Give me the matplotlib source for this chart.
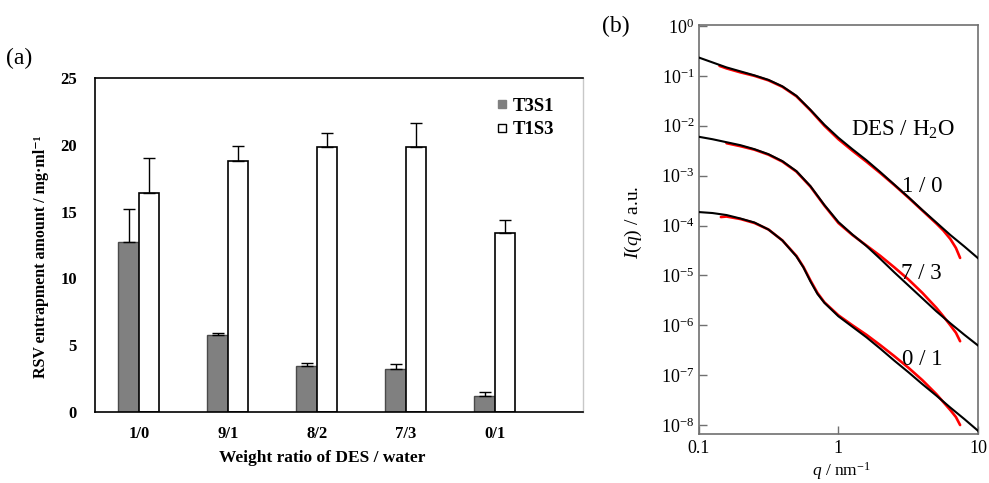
import matplotlib
matplotlib.use('Agg')
import matplotlib.pyplot as plt
from matplotlib.lines import Line2D
from matplotlib.ticker import FixedLocator, FixedFormatter, NullLocator
import numpy as np

plt.rcParams['font.family'] = ['Liberation Serif', 'DejaVu Serif']
plt.rcParams['mathtext.fontset'] = 'custom'
plt.rcParams['mathtext.rm'] = 'Liberation Serif'
plt.rcParams['mathtext.it'] = 'Liberation Serif:italic'
plt.rcParams['mathtext.bf'] = 'Liberation Serif:bold'

# ---------------- panel (a) data ----------------
categories = ['1/0', '9/1', '8/2', '7/3', '0/1']
t3s1 = [12.75, 5.8, 3.42, 3.22, 1.2]
t3s1_err = [2.45, 0.15, 0.25, 0.37, 0.27]
t1s3 = [16.4, 18.8, 19.8, 19.8, 13.37]
t1s3_err = [2.6, 1.1, 1.05, 1.8, 1.0]
a_yticks = [0, 5, 10, 15, 20, 25]

# ---------------- panel (b) data (log10 values) ----------------
fit_10_logq = [-1.0, -0.9, -0.8, -0.7, -0.6, -0.5, -0.4, -0.3, -0.2, -0.1, 0.0,
               0.1, 0.2, 0.3, 0.4, 0.5, 0.6, 0.7, 0.8, 0.9, 1.0]
fit_10_logI = [-0.63, -0.73, -0.83, -0.91, -0.99, -1.08, -1.21, -1.40, -1.68, -1.98, -2.24,
               -2.47, -2.69, -2.93, -3.18, -3.43, -3.69, -3.94, -4.19, -4.42, -4.66]
fit_73_logq = [-1.0, -0.9, -0.8, -0.7, -0.6, -0.5, -0.4, -0.3, -0.2, -0.1, 0.0,
               0.1, 0.2, 0.3, 0.4, 0.5, 0.6, 0.7, 0.8, 0.9, 1.0]
fit_73_logI = [-2.22, -2.27, -2.33, -2.39, -2.47, -2.57, -2.71, -2.91, -3.21, -3.59, -3.93,
               -4.18, -4.41, -4.67, -4.94, -5.20, -5.46, -5.72, -5.96, -6.19, -6.41]
fit_01_logq = [-1.0, -0.9, -0.8, -0.7, -0.6, -0.5, -0.4, -0.3, -0.25, -0.2, -0.15, -0.1, 0.0,
               0.1, 0.2, 0.3, 0.4, 0.5, 0.6, 0.7, 0.8, 0.9, 1.0]
fit_01_logI = [-3.73, -3.75, -3.79, -3.86, -3.94, -4.08, -4.30, -4.62, -4.84, -5.12, -5.37, -5.55, -5.82,
               -6.03, -6.24, -6.47, -6.71, -6.94, -7.18, -7.41, -7.65, -7.88, -8.12]

exp_10_logq = [-0.85, -0.8, -0.7, -0.6, -0.5, -0.4, -0.3, -0.2, -0.1, 0.0, 0.1, 0.2, 0.3,
               0.4, 0.5, 0.6, 0.7, 0.75, 0.8, 0.84, 0.87]
exp_10_logI = [-0.80, -0.85, -0.93, -1.00, -1.09, -1.22, -1.41, -1.69, -2.00, -2.27, -2.50, -2.72, -2.95,
               -3.19, -3.44, -3.70, -3.96, -4.10, -4.27, -4.45, -4.65]
exp_73_logq = [-0.8, -0.7, -0.6, -0.5, -0.4, -0.3, -0.2, -0.1, 0.0, 0.1, 0.2, 0.3,
               0.4, 0.5, 0.6, 0.7, 0.75, 0.8, 0.84, 0.87]
exp_73_logI = [-2.35, -2.41, -2.48, -2.58, -2.72, -2.92, -3.22, -3.60, -3.95, -4.19, -4.40, -4.61,
               -4.84, -5.08, -5.35, -5.65, -5.82, -6.00, -6.15, -6.32]
exp_01_logq = [-0.84, -0.8, -0.7, -0.6, -0.5, -0.4, -0.3, -0.25, -0.2, -0.15, -0.1, 0.0, 0.1, 0.2,
               0.3, 0.4, 0.5, 0.6, 0.7, 0.75, 0.8, 0.84, 0.87]
exp_01_logI = [-3.83, -3.82, -3.87, -3.95, -4.08, -4.30, -4.61, -4.83, -5.10, -5.35, -5.54, -5.80, -6.00, -6.19,
               -6.40, -6.62, -6.85, -7.10, -7.38, -7.54, -7.70, -7.84, -8.00]

b_ytick_exps = [0, -1, -2, -3, -4, -5, -6, -7, -8]
b_xticks = [0.1, 1, 10]
b_xticklabels = ['0.1', '1', '10']
curve_labels = ['1 / 0', '7 / 3', '0 / 1']

W, H = 989, 483
fig = plt.figure(figsize=(W / 100, H / 100), dpi=100)

# ---------------- panel (a) ----------------
axa = fig.add_axes([95 / W, 1 - 412 / H, (583 - 95) / W, (412 - 78) / H])
x = np.arange(len(categories))
w = 0.23
ekw = dict(ecolor='black', elinewidth=1.0, capthick=1.0)
axa.bar(x - w / 2, t3s1, w, color='#808080', edgecolor='#4a4a4a', linewidth=1.0,
        yerr=[np.zeros(len(t3s1)), t3s1_err], capsize=4, error_kw=ekw, zorder=2)
axa.bar(x + w / 2, t1s3, w, color='white', edgecolor='black', linewidth=1.2,
        yerr=[np.zeros(len(t1s3)), t1s3_err], capsize=4, error_kw=ekw, zorder=2)
axa.set_xlim(-0.494, 4.99)
axa.set_ylim(0, 25)
axa.set_yticks(a_yticks)
axa.set_yticklabels([str(v) for v in a_yticks])
axa.set_xticks(x)
axa.set_xticklabels(categories)
axa.tick_params(axis='y', length=0, pad=13, labelsize=12)
axa.tick_params(axis='x', length=0, pad=10, labelsize=12)
for lab in axa.get_xticklabels() + axa.get_yticklabels():
    lab.set_fontweight('bold')
for s in ['left', 'bottom', 'top']:
    axa.spines[s].set_color('black')
    axa.spines[s].set_linewidth(1.2)
axa.spines['right'].set_color('#c8c8c8')
axa.spines['right'].set_linewidth(1.0)
axa.set_ylabel('RSV entrapment amount / mg·ml⁻¹', fontsize=11.5, fontweight='bold')
axa.yaxis.set_label_coords(-0.094, 0.465)
axa.set_xlabel('Weight ratio of DES / water', fontsize=12.5, fontweight='bold')
axa.xaxis.set_label_coords(0.465, -0.115)
handles = [Line2D([], [], marker='s', ls='', markersize=5.5, mfc='#808080', mec='#808080'),
           Line2D([], [], marker='s', ls='', markersize=5.5, mfc='white', mec='black', mew=1.0)]
axa.legend(handles, ['T3S1', 'T1S3'], loc='upper right', bbox_to_anchor=(0.96, 0.97),
           frameon=False, handlelength=0.5, handletextpad=0.3, labelspacing=0.35,
           borderpad=0, prop=dict(weight='bold', size=13.5))
fig.text(19 / W, 1 - 58 / H, '(a)', fontsize=17, ha='center', va='center')

# ---------------- panel (b) ----------------
axb = fig.add_axes([698.5 / W, 1 - 434 / H, (978.3 - 698.5) / W, (434 - 25) / H])
axb.set_xscale('log')
axb.set_yscale('log')
exps = [(exp_10_logq, exp_10_logI), (exp_73_logq, exp_73_logI), (exp_01_logq, exp_01_logI)]
fits = [(fit_10_logq, fit_10_logI), (fit_73_logq, fit_73_logI), (fit_01_logq, fit_01_logI)]
for lq, li in exps:
    axb.plot(10 ** np.array(lq), 10 ** np.array(li), color='#ff0000', lw=1.9,
             solid_capstyle='round', solid_joinstyle='round', zorder=2)
for lq, li in fits:
    axb.plot(10 ** np.array(lq), 10 ** np.array(li), color='black', lw=1.5,
             solid_joinstyle='round', zorder=3)
axb.set_xlim(0.1, 10)
axb.set_ylim(10 ** -8.18, 10 ** 0.02)
axb.yaxis.set_major_locator(FixedLocator([10.0 ** e for e in b_ytick_exps]))
axb.yaxis.set_major_formatter(FixedFormatter([r'$10^{%d}$' % e for e in b_ytick_exps]))
axb.yaxis.set_minor_locator(NullLocator())
axb.xaxis.set_major_locator(FixedLocator(b_xticks))
axb.xaxis.set_major_formatter(FixedFormatter(b_xticklabels))
axb.xaxis.set_minor_locator(NullLocator())
axb.tick_params(which='major', direction='in', length=6, width=1.0, color='#707070',
                labelsize=13)
axb.tick_params(axis='y', pad=3)
axb.tick_params(axis='x', pad=4)
for s in axb.spines.values():
    s.set_color('#707070')
    s.set_linewidth(1.2)
axb.set_ylabel(r'$I(q)$ / a.u.', fontsize=14)
axb.yaxis.set_label_coords(-0.195, 0.517)
axb.set_xlabel(r'$q$ / nm$^{-1}$', fontsize=12.5)
axb.xaxis.set_label_coords(0.51, -0.063)
axb.text(10 ** 0.464, 10 ** -2.08, r'DES / H$_2$O', fontsize=16.5, ha='center', va='center')
label_pos = [-3.22, -4.97, -6.69]
for t, ly in zip(curve_labels, label_pos):
    axb.text(10 ** 0.596, 10 ** ly, t, fontsize=16.5, ha='center', va='center')
fig.text(616 / W, 1 - 26 / H, '(b)', fontsize=17, ha='center', va='center')

fig.savefig('out.png', dpi=100)
